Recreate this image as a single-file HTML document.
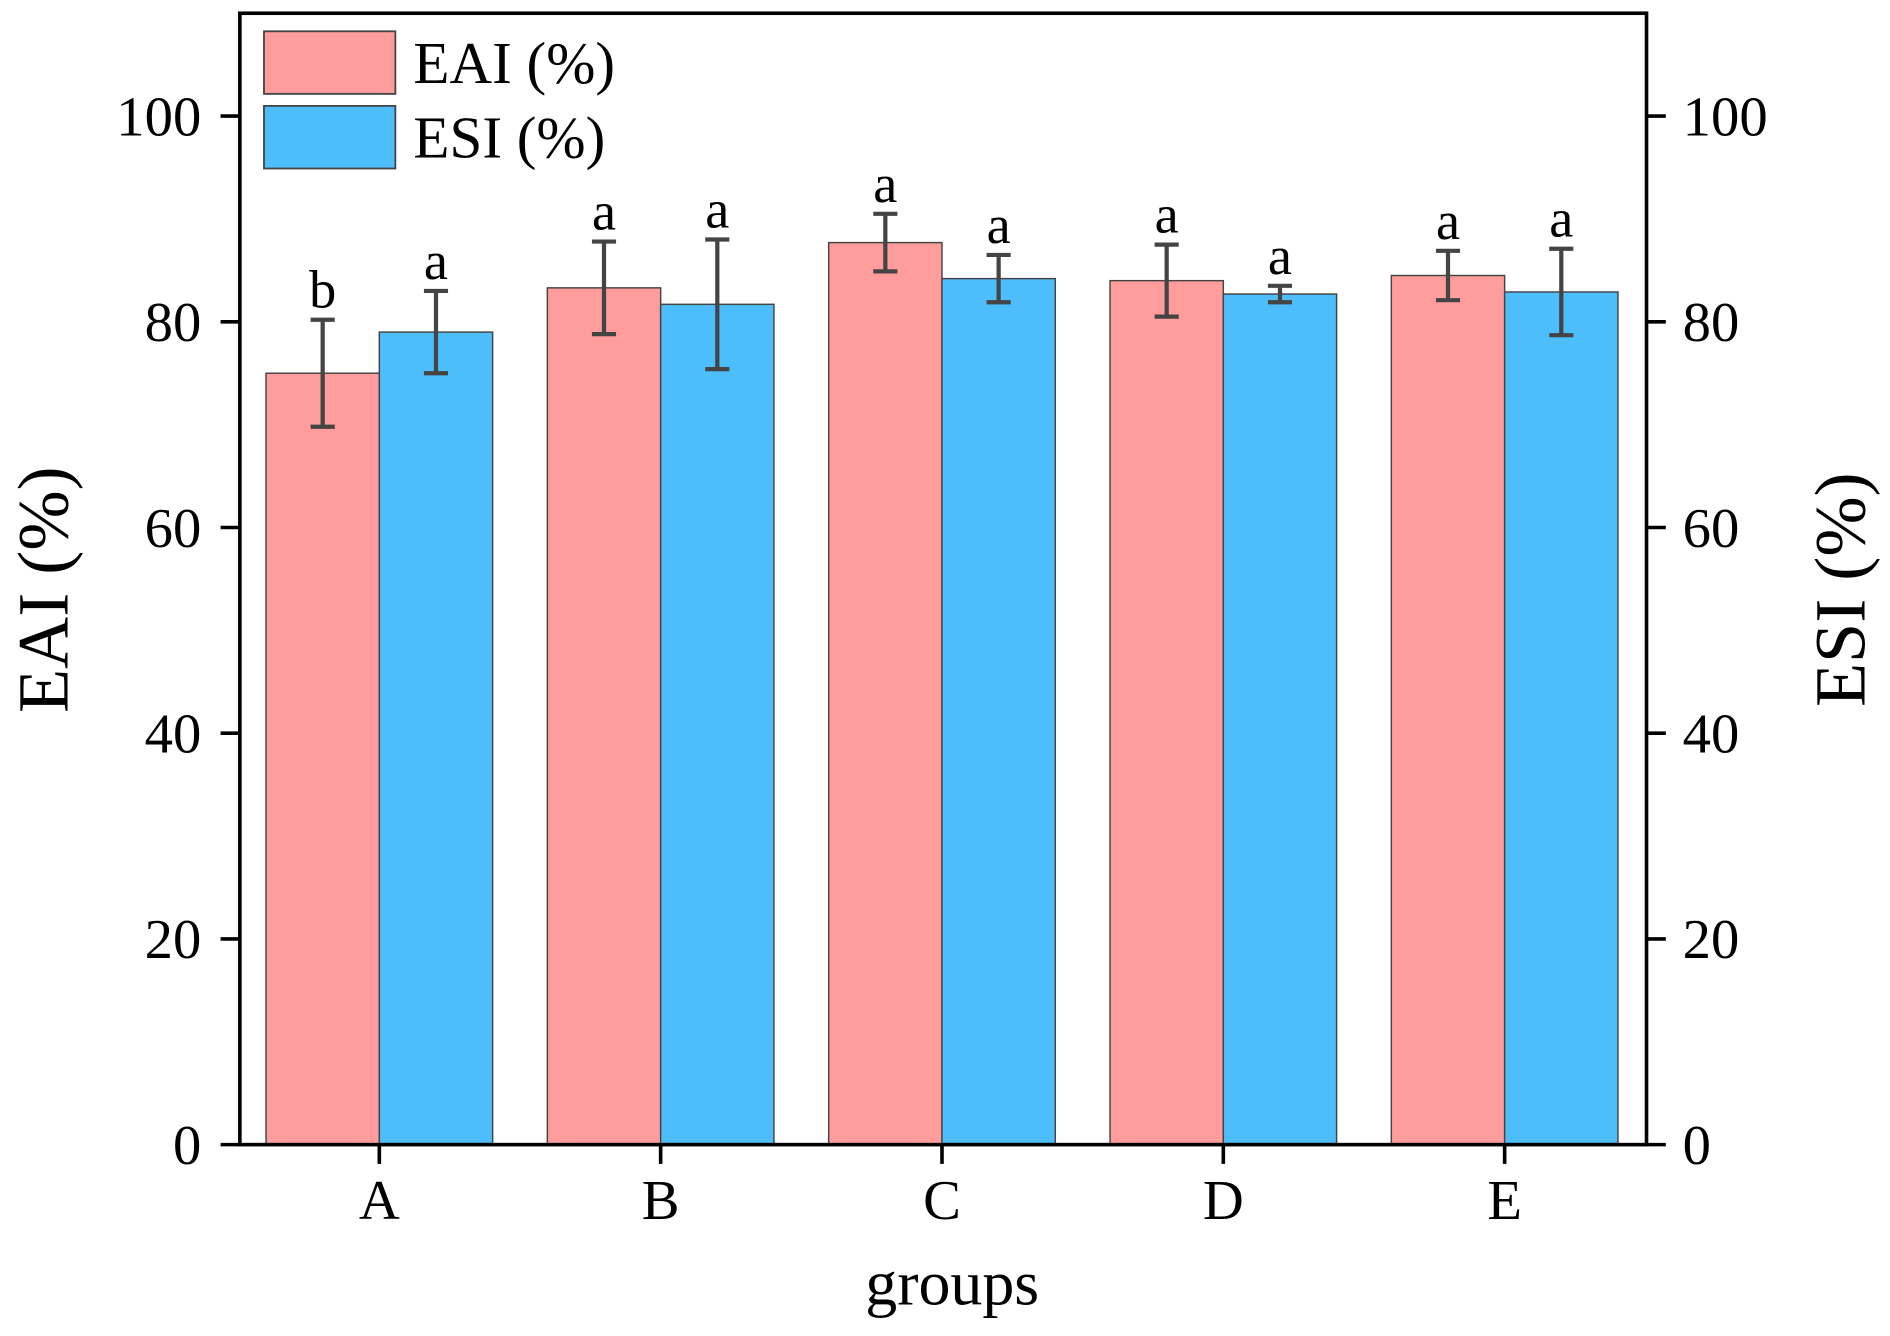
<!DOCTYPE html>
<html><head><meta charset="utf-8"><style>html,body{margin:0;padding:0;background:#fff}svg{display:block}text{font-family:"Liberation Serif",serif;fill:#000}</style></head>
<body>
<svg id="chart" width="1890" height="1336" viewBox="0 0 1568 1110" preserveAspectRatio="none" xmlns="http://www.w3.org/2000/svg">
<g id="plot"></g>
</svg>
<script>
const categories = ["A","B","C","D","E"];
const eaiValues = [75.0, 83.3, 87.7, 84.0, 84.5];
const eaiErr = [5.2, 4.5, 2.8, 3.5, 2.4];
const esiValues = [79.0, 81.7, 84.2, 82.7, 82.9];
const esiErr = [4.0, 6.3, 2.3, 0.8, 4.2];
const eaiLetters = ["b","a","a","a","a"];
const esiLetters = ["a","a","a","a","a"];
const yTicks = [0,20,40,60,80,100];

const NS="http://www.w3.org/2000/svg";
const g=document.getElementById('plot');
const L=199,R=1366,T=11,B=951,yMax=110;
const y=v=>B-(B-T)*v/yMax;
const step=(R-L)/5;
const cx=i=>L+step*(i+0.5)-1;
const bw=94;
function mk(tag,attrs,txt){const e=document.createElementNS(NS,tag);for(const k in attrs)e.setAttribute(k,attrs[k]);if(txt!==undefined)e.textContent=txt;g.appendChild(e);return e;}

function series(vals,errs,letters,off,color,nm){
  vals.forEach((v,i)=>{
    const x0=cx(i)+off;
    const r=mk('rect',{x:x0,y:y(v),width:bw,height:B-y(v),fill:color,stroke:'#444','stroke-width':1.2});
    
    
    const m=x0+bw/2,t=y(v+errs[i]),b=y(v-errs[i]);
    const e=mk('path',{d:`M${m-10},${t}H${m+10}M${m},${t}V${b}M${m-10},${b}H${m+10}`,stroke:'#444','stroke-width':3.5,fill:'none'});
    
    
    const l=mk('text',{x:m,y:t-10,'font-size':45,'text-anchor':'middle'},letters[i]);
    
    
  });
}
series(eaiValues,eaiErr,eaiLetters,-bw,'#FF9C9C','eai');
series(esiValues,esiErr,esiLetters,0,'#4DBDFB','esi');

const f=mk('rect',{x:L,y:T,width:R-L,height:B-T,fill:'none',stroke:'#000','stroke-width':3});



yTicks.forEach(v=>{
  const yy=y(v);
  const tk=mk('path',{d:`M${L-16},${yy}H${L}M${R},${yy}H${R+16}`,stroke:'#000','stroke-width':3});
  
  
  const a=mk('text',{x:L-32,y:yy+16,'font-size':47,'text-anchor':'end'},v);
  
  
  const b=mk('text',{x:R+30,y:yy+16,'font-size':47,'text-anchor':'start'},v);
  
  
});
categories.forEach((c,i)=>{
  const tk=mk('path',{d:`M${cx(i)},${B}V${B+16}`,stroke:'#000','stroke-width':3});
  
  
  const t=mk('text',{x:cx(i),y:1013,'font-size':47,'text-anchor':'middle'},c);
  
  
});
const xt=mk('text',{x:790,y:1084,'font-size':53,'text-anchor':'middle'},'groups');


const yl=mk('text',{x:0,y:0,'font-size':60,'text-anchor':'middle',transform:'translate(56,490) rotate(-90)'},'EAI (%)');


const yr=mk('text',{x:0,y:0,'font-size':60,'text-anchor':'middle',transform:'translate(1547,490) rotate(-90)'},'ESI (%)');



const lg1=mk('rect',{x:219,y:26,width:109,height:52,fill:'#FF9C9C',stroke:'#444','stroke-width':1.5});


const lt1=mk('text',{x:343,y:69,'font-size':49},'EAI (%)');


const lg2=mk('rect',{x:219,y:88,width:109,height:52,fill:'#4DBDFB',stroke:'#444','stroke-width':1.5});


const lt2=mk('text',{x:343,y:131,'font-size':49},'ESI (%)');


</script>
</body></html>
